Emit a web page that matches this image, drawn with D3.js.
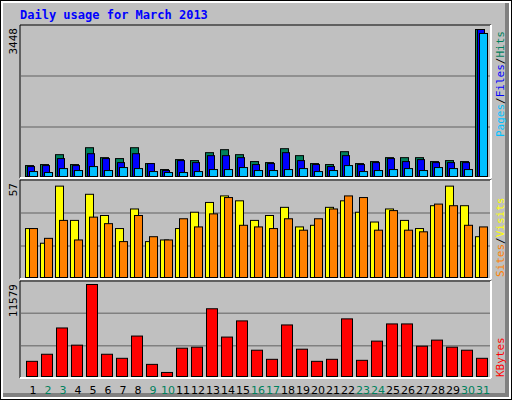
<!DOCTYPE html>
<html><head><meta charset="utf-8">
<script src="https://cdn.jsdelivr.net/npm/d3@7"></script>
<style>body{margin:0;background:#fff}</style>
</head><body>
<script>
const days = d3.range(1, 32);
const weekend = [2, 3, 9, 10, 16, 17, 23, 24, 30, 31];
const hits  = [256,280,512,280,675,442,420,675,303,163,396,373,559,629,512,350,326,652,489,303,280,582,303,350,442,442,442,350,373,350,3448];
const files = [233,256,420,256,535,420,326,535,303,140,373,326,489,489,442,280,303,559,373,280,233,489,280,326,420,350,396,326,326,326,3448];
const pages = [116,93,186,140,233,140,210,186,116,93,93,116,163,163,210,140,140,163,186,116,140,256,116,140,163,186,140,210,186,163,3355];
const visits = [30,21,56,35,51,38,30,42,22,23,30,40,46,50,47,35,38,43,31,32,43,47,40,34,42,35,30,44,56,44,25];
const sites  = [30,24,35,23,37,33,22,38,25,23,36,31,39,49,32,31,30,36,29,36,42,50,49,29,41,29,28,45,44,32,31];
const kbytes = [1909,2800,6108,3945,11579,2800,2290,5090,1527,509,3563,3690,8525,4963,6998,3308,2163,6489,3436,1909,2163,7253,2036,4453,6617,6617,3817,4580,3690,3308,2290];

const W = 512, H = 400;
const svg = d3.select("body").append("svg").attr("width", W).attr("height", H)
  .style("font-family", "'DejaVu Sans Mono', monospace");

// frame
svg.append("rect").attr("x", 0).attr("y", 0).attr("width", W).attr("height", H).attr("fill", "#000");
svg.append("rect").attr("x", 1).attr("y", 1).attr("width", W - 2).attr("height", H - 2).attr("fill", "#fff");
svg.append("rect").attr("x", 3).attr("y", 3).attr("width", W - 6).attr("height", H - 6).attr("fill", "#808080");
svg.append("rect").attr("x", 3).attr("y", 3).attr("width", W - 10).attr("height", H - 10).attr("fill", "#c0c0c0");

svg.append("text").attr("x", 20).attr("y", 19).attr("fill", "#0000ff")
  .attr("font-weight", "bold").attr("font-size", 12).text("Daily usage for March 2013");

const x = d3.scaleBand().domain(days).range([25, 25 + 31 * 15]);
const L = 20, R = 491;

function panel(top, bottom, maxTop, max, label) {
  // box: dark top/left, white bottom/right
  svg.append("line").attr("x1", L).attr("x2", R).attr("y1", top).attr("y2", top).attr("stroke", "#000");
  svg.append("line").attr("x1", L).attr("x2", L).attr("y1", top).attr("y2", bottom).attr("stroke", "#000");
  svg.append("line").attr("x1", L).attr("x2", R).attr("y1", bottom).attr("y2", bottom).attr("stroke", "#fff").attr("stroke-width", 2);
  svg.append("line").attr("x1", R).attr("x2", R).attr("y1", top).attr("y2", bottom).attr("stroke", "#fff").attr("stroke-width", 2);
  const h = (bottom - top) / 3;
  [1, 2].forEach(i => svg.append("line").attr("x1", L + 1).attr("x2", R - 1)
    .attr("y1", top + h * i).attr("y2", top + h * i).attr("stroke", "#808080").attr("stroke-width", 1.5));
  svg.append("text").attr("transform", `translate(17,${top + 3}) rotate(-90)`)
    .attr("text-anchor", "end").attr("font-size", 11).attr("fill", "#000").text(label);
  return d3.scaleLinear().domain([0, max]).range([bottom - 2, maxTop]);
}

function bars(data, y, dx, w, color) {
  svg.append("g").selectAll("rect").data(data).join("rect")
    .attr("x", (d, i) => x(days[i]) + dx + 0.5)
    .attr("y", d => y(d) + 0.5)
    .attr("width", w)
    .attr("height", d => y(0) - y(d))
    .attr("fill", color).attr("stroke", "#000").attr("stroke-width", 1);
}

const y1 = panel(25, 178, 29, 3448, "3448");
bars(hits, y1, 0, 8, "#00805c");
bars(files, y1, 2, 7, "#0000ff");
bars(pages, y1, 4, 8, "#00c0ff");

const y2 = panel(180, 279, 184, 57, "57");
bars(visits, y2, 0, 8, "#ffff00");
bars(sites, y2, 4, 8, "#ff8000");

const y3 = panel(281, 378, 284, 11579, "11579");
bars(kbytes, y3, 1, 11, "#ff0000");

// day labels
svg.append("g").selectAll("text").data(days).join("text")
  .attr("x", d => x(d) + 8).attr("y", 394).attr("text-anchor", "middle")
  .attr("font-family", "'DejaVu Sans', sans-serif").attr("font-size", 11)
  .attr("fill", d => weekend.includes(d) ? "#00805c" : "#000").text(d => d);

// right side legends
function legend(yEnd, parts) {
  const t = svg.append("text").attr("transform", `translate(504,${yEnd}) rotate(-90)`)
    .attr("font-size", 11);
  parts.forEach(([s, c]) => t.append("tspan").attr("fill", c).text(s));
}
legend(137, [["Pages", "#00c0ff"], ["/", "#000"], ["Files", "#0000ff"], ["/", "#000"], ["Hits", "#00805c"]]);
legend(277, [["Sites", "#ff8000"], ["/", "#000"], ["Visits", "#ffff00"]]);
legend(377, [["KBytes", "#ff0000"]]);
</script>
</body></html>
